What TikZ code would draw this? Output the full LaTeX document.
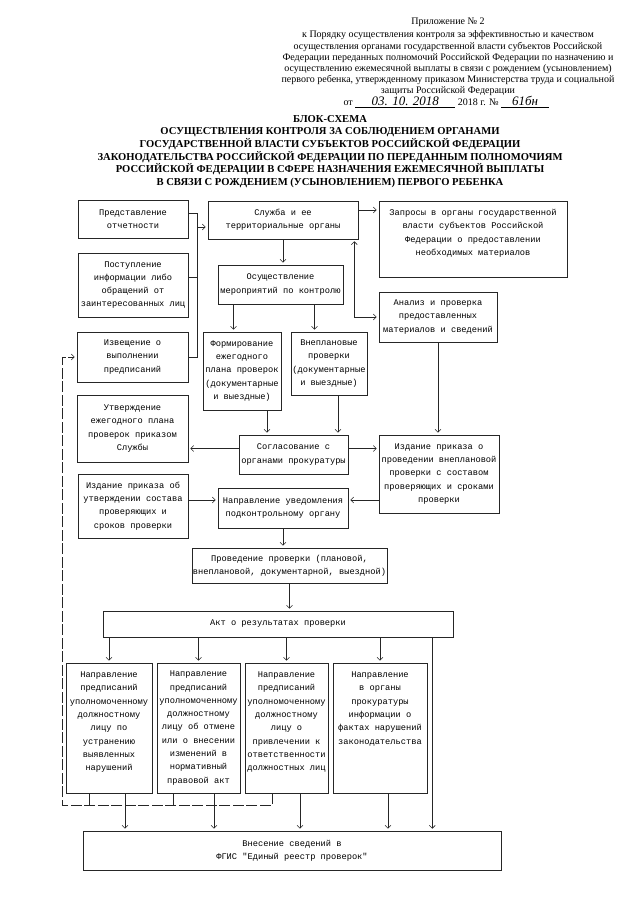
\documentclass[tikz,border=0pt]{standalone}
\usepackage{fontspec}
\setmainfont{Liberation Serif}
\setmonofont{Liberation Mono}
\usetikzlibrary{arrows.meta}
\newcommand{\blkfont}{\ttfamily\fontsize{8.7}{13.3}\selectfont}
\newcommand{\hdrfont}{\fontsize{10}{11.2}\selectfont}

\begin{document}
\begin{tikzpicture}[x=1pt, y=-1pt,
	blk/.style={draw=black!85, line width=0.55pt, font=\blkfont, align=center, inner sep=0.5pt},
	ln/.style={draw=black!85, line width=0.55pt},
	arr/.style={ln, -{Straight Barb[length=3pt,width=6pt]}, shorten >=2pt},
	both/.style={ln, {Straight Barb[length=3pt,width=6pt]}-{Straight Barb[length=3pt,width=6pt]}, shorten >=2pt, shorten <=2pt},
]
	\useasboundingbox[fill=white] (0,0) rectangle (640,905);

	% Heading of the appendix
	\node[font=\hdrfont] (app) at (448,22) {Приложение № 2};
	\node[font=\hdrfont, align=center] (order) at (448,63.5) {к Порядку осуществления контроля за эффективностью и качеством\\
		осуществления органами государственной власти субъектов Российской\\
		Федерации переданных полномочий Российской Федерации по назначению и\\
		осуществлению ежемесячной выплаты в связи с рождением (усыновлением)\\
		первого ребенка, утвержденному приказом Министерства труда и социальной\\
		защиты Российской Федерации};
	\node[font=\hdrfont, anchor=west] (date) at (340,102) {от \underline{\makebox[100pt]{\fontsize{13}{13}\selectfont\itshape 03. 10. 2018}} 2018 г. № \underline{\makebox[48pt]{\fontsize{13}{13}\selectfont\itshape 61бн}}};

	% Title
	\node[font=\bfseries\fontsize{10.6}{12.6}\selectfont, align=center] (title) at (330,151.5) {БЛОК-СХЕМА\\
		ОСУЩЕСТВЛЕНИЯ КОНТРОЛЯ ЗА СОБЛЮДЕНИЕМ ОРГАНАМИ\\
		ГОСУДАРСТВЕННОЙ ВЛАСТИ СУБЪЕКТОВ РОССИЙСКОЙ ФЕДЕРАЦИИ\\
		ЗАКОНОДАТЕЛЬСТВА РОССИЙСКОЙ ФЕДЕРАЦИИ ПО ПЕРЕДАННЫМ ПОЛНОМОЧИЯМ\\
		РОССИЙСКОЙ ФЕДЕРАЦИИ В СФЕРЕ НАЗНАЧЕНИЯ ЕЖЕМЕСЯЧНОЙ ВЫПЛАТЫ\\
		В СВЯЗИ С РОЖДЕНИЕМ (УСЫНОВЛЕНИЕМ) ПЕРВОГО РЕБЕНКА};

	% Boxes
	\node[blk, minimum width=110pt, minimum height=38pt] (pred) at (133,219) {Представление\\отчетности};
	\node[blk, minimum width=150pt, minimum height=38pt] (sluzhba) at (283,220) {Служба и ее\\территориальные органы};
	\node[blk, minimum width=188pt, minimum height=76pt] (zapros) at (473,239) {Запросы в органы государственной\\власти субъектов Российской\\Федерации о предоставлении\\необходимых материалов\\~};
	\node[blk, minimum width=110pt, minimum height=64pt] (postup) at (133,285) {Поступление\\информации либо\\обращений от\\заинтересованных лиц};
	\node[blk, minimum width=125pt, minimum height=39pt] (osush) at (280.5,284.5) {Осуществление\\мероприятий по контролю};
	\node[blk, minimum width=118pt, minimum height=50pt] (analiz) at (438,317) {Анализ и проверка\\предоставленных\\материалов и сведений};
	\node[blk, minimum width=111pt, minimum height=50pt] (izvesh) at (132.5,357) {Извещение о\\выполнении\\предписаний};
	\node[blk, minimum width=78pt, minimum height=78pt] (form) at (242,371) {Формирование\\ежегодного\\плана проверок\\(документарные\\и выездные)};
	\node[blk, minimum width=76pt, minimum height=63pt] (vneplan) at (329,363.5) {Внеплановые\\проверки\\(документарные\\и выездные)};
	\node[blk, minimum width=111pt, minimum height=67pt] (utver) at (132.5,428.5) {Утверждение\\ежегодного плана\\проверок приказом\\Службы};
	\node[blk, minimum width=109pt, minimum height=39pt] (soglas) at (293.5,454.5) {Согласование с\\органами прокуратуры};
	\node[blk, minimum width=120pt, minimum height=78pt] (izdvnepl) at (439,474) {Издание приказа о\\проведении внеплановой\\проверки с составом\\проверяющих и сроками\\проверки};
	\node[blk, minimum width=110pt, minimum height=64pt] (izdsost) at (133,506) {Издание приказа об\\утверждении состава\\проверяющих и\\сроков проверки};
	\node[blk, minimum width=130pt, minimum height=40pt] (napruved) at (283,508) {Направление уведомления\\подконтрольному органу};
	\node[blk, minimum width=195pt, minimum height=35pt] (proved) at (289.5,565.5) {Проведение проверки (плановой,\\внеплановой, документарной, выездной)};
	\node[blk, minimum width=350pt, minimum height=26pt] (akt) at (278,624) {Акт о результатах проверки};
	\node[blk, minimum width=86pt, minimum height=130pt] (b1) at (109,728) {Направление\\предписаний\\уполномоченному\\должностному\\лицу по\\устранению\\выявленных\\нарушений\\~};
	\node[blk, minimum width=83pt, minimum height=130pt] (b2) at (198.5,728) {Направление\\предписаний\\уполномоченному\\должностному\\лицу об отмене\\или о внесении\\изменений в\\нормативный\\правовой акт};
	\node[blk, minimum width=83pt, minimum height=130pt] (b3) at (286.5,728) {Направление\\предписаний\\уполномоченному\\должностному\\лицу о\\привлечении к\\ответственности\\должностных лиц\\~};
	\node[blk, minimum width=94pt, minimum height=130pt] (b4) at (380,728) {Направление\\в органы\\прокуратуры\\информации о\\фактах нарушений\\законодательства\\~\\~\\~};
	\node[blk, minimum width=418pt, minimum height=39pt] (vnes) at (292,850.5) {Внесение сведений в\\ФГИС "Единый реестр проверок"};

	% Inputs to the Service
	\coordinate (busT) at ([xshift=9pt, yshift=6pt]pred.east);
	\draw[ln] ([yshift=6pt]pred.east) -- (busT) -- (busT |- izvesh.east) -- (izvesh.east);
	\coordinate (pIn) at ([yshift=8pt]postup.east);
	\draw[ln] (pIn) -- (pIn -| busT);
	\coordinate (sIn) at ([yshift=-7pt]sluzhba.west);
	\draw[arr] (sIn -| busT) -- (sIn);

	% Service
	\coordinate (zIn) at ([yshift=10pt]sluzhba.east);
	\draw[arr] (zIn) -- (zIn -| zapros.west);
	\draw[arr] (sluzhba.south) -- (sluzhba.south |- osush.north);
	\coordinate (aS) at ([xshift=-4pt]sluzhba.south east);
	\draw[both] (aS) |- (analiz.west);

	% Planned and unplanned checks
	\coordinate (m1) at ([xshift=-47pt]osush.south);
	\coordinate (m2) at ([xshift=34pt]osush.south);
	\draw[arr] (m1) -- (m1 |- form.north);
	\draw[arr] (m2) -- (m2 |- vneplan.north);
	\coordinate (f1) at ([xshift=25pt]form.south);
	\coordinate (v1) at ([xshift=9pt]vneplan.south);
	\draw[arr] (f1) -- (f1 |- soglas.north);
	\draw[arr] (v1) -- (v1 |- soglas.north);
	\draw[arr] (analiz.south) -- (analiz.south |- izdvnepl.north);

	% Prosecutor and orders
	\coordinate (sg1) at ([yshift=6pt]soglas.west);
	\coordinate (sg2) at ([yshift=6pt]soglas.east);
	\draw[arr] (sg1) -- (sg1 -| utver.east);
	\draw[arr] (sg2) -- (sg2 -| izdvnepl.west);
	\coordinate (nt1) at ([yshift=8pt]napruved.west);
	\coordinate (nt2) at ([yshift=8pt]napruved.east);
	\draw[arr] (nt1 -| izdsost.east) -- (nt1);
	\draw[arr] (nt2 -| izdvnepl.west) -- (nt2);

	% Inspection and act
	\draw[arr] (napruved.south) -- (napruved.south |- proved.north);
	\draw[arr] (proved.south) -- (proved.south |- akt.north);
	\foreach \b in {b1,b2,b3,b4}
		\draw[arr] (akt.south -| \b.north) -- (\b.north);
	\coordinate (rl) at ([xshift=5pt]b4.east);
	\draw[arr] (akt.south -| rl) -- (vnes.north -| rl);

	% Register
	\foreach \b/\dx in {b1/16, b2/15.5, b3/13.5, b4/8} {
		\coordinate (o) at ([xshift=\dx pt]\b.south);
		\draw[arr] (o) -- (o |- vnes.north);
	}

	% Back to the notice of compliance
	\coordinate (rb) at ([xshift=-3pt, yshift=-12pt]b1.south west);
	\foreach \b/\dx in {b1/-20, b2/-25.5} {
		\coordinate (t) at ([xshift=\dx pt]\b.south);
		\draw[ln] (t) -- (t |- rb);
	}
	\coordinate (t3) at ([xshift=-14.5pt]b3.south);
	\draw[arr, dash pattern=on 11pt off 2.5pt] (t3) |- (rb) |- (izvesh.west);

\end{tikzpicture}
\end{document}
